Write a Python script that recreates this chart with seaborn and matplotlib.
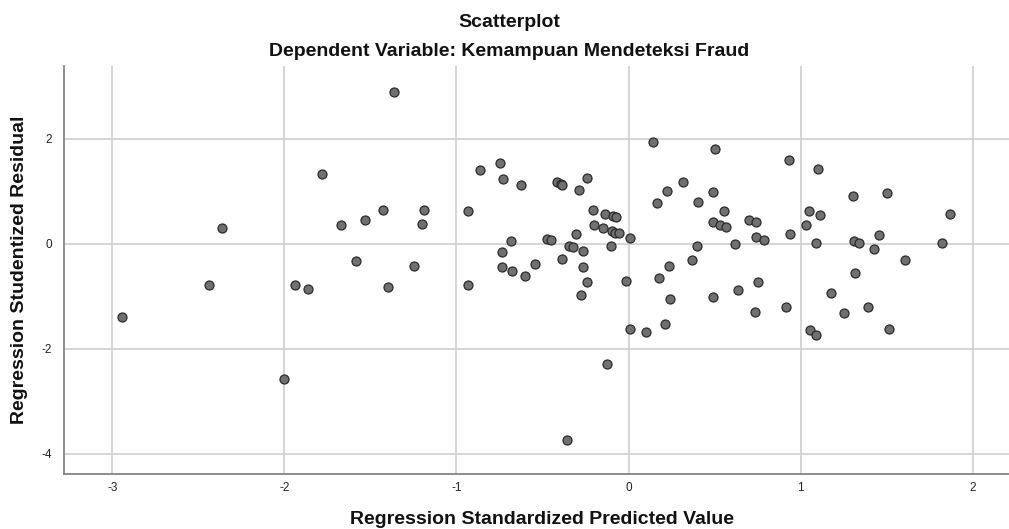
import matplotlib
matplotlib.use("Agg")
import matplotlib.pyplot as plt
import seaborn as sns
import pandas as pd

predicted = [
    -2.943, -2.437, -2.365, -2.003, -1.936, -1.866, -1.779, -1.670, -1.583, -1.529,
    -1.428, -1.399, -1.366, -1.249, -1.201, -1.187, -0.933, -0.933, -0.863, -0.747,
    -0.729, -0.735, -0.735, -0.681, -0.679, -0.624, -0.601, -0.541, -0.473, -0.452,
    -0.415, -0.395, -0.385, -0.384, -0.355, -0.347, -0.322, -0.303, -0.287, -0.274,
    -0.262, -0.262, -0.244, -0.242, -0.209, -0.200, -0.147, -0.136, -0.124, -0.099,
    -0.097, -0.093, -0.076, -0.074, -0.058, -0.015, 0.010, 0.010, 0.101, 0.140,
    0.167, 0.179, 0.210, 0.223, 0.237, 0.241, 0.316, 0.367, 0.400, 0.406,
    0.491, 0.491, 0.493, 0.505, 0.530, 0.553, 0.565, 0.619, 0.635, 0.703,
    0.733, 0.740, 0.742, 0.755, 0.790, 0.916, 0.933, 0.936, 1.034, 1.048,
    1.054, 1.089, 1.089, 1.102, 1.114, 1.176, 1.250, 1.304, 1.308, 1.314,
    1.339, 1.391, 1.426, 1.455, 1.502, 1.515, 1.608, 1.822, 1.867,
]
residual = [
    -1.397, -0.792, 0.296, -2.580, -0.780, -0.868, 1.332, 0.353, -0.334, 0.460,
    0.645, -0.830, 2.897, -0.430, 0.371, 0.645, 0.632, -0.792, 1.408, 1.548,
    1.243, -0.162, -0.449, 0.053, -0.513, 1.122, -0.614, -0.391, 0.097, 0.073,
    1.173, 1.141, 1.125, -0.284, -3.750, -0.036, -0.067, 0.193, 1.027, -0.983,
    -0.137, -0.443, -0.723, 1.256, 0.645, 0.353, 0.296, 0.563, -2.288, -0.036,
    0.239, 0.525, 0.212, 0.506, 0.200, -0.704, 0.117, -1.620, -1.683, 1.949,
    0.785, -0.646, -1.530, 1.000, -0.430, -1.047, 1.179, -0.300, -0.042, 0.792,
    0.410, -1.009, 0.989, 1.815, 0.365, 0.626, 0.327, -0.010, -0.882, 0.460,
    -1.295, 0.130, 0.422, -0.735, 0.067, -1.212, 1.605, 0.193, 0.359, 0.626,
    -1.645, 0.015, -1.734, 1.422, 0.556, -0.939, -1.314, 0.906, 0.047, -0.554,
    0.015, -1.206, -0.100, 0.162, 0.975, -1.626, -0.303, 0.020, 0.563,
]
x_ticks = [-3, -2, -1, 0, 1, 2]
y_ticks = [-4, -2, 0, 2]

title = "Scatterplot"
subtitle = "Dependent Variable: Kemampuan Mendeteksi Fraud"
x_label = "Regression Standardized Predicted Value"
y_label = "Regression Studentized Residual"

df = pd.DataFrame({"pred": predicted, "resid": residual})

sns.set_style("white")
plt.rcParams["font.family"] = ["Liberation Sans", "DejaVu Sans"]

fig = plt.figure(figsize=(10.09, 5.29), dpi=100)
ax = fig.add_axes([0.0637, 0.104, 0.936, 0.771])

for t in x_ticks:
    ax.axvline(t, color="#d2d2d2", lw=1.3, zorder=0)
for t in y_ticks:
    ax.axhline(t, color="#d2d2d2", lw=1.3, zorder=0)

sns.scatterplot(data=df, x="pred", y="resid", ax=ax, s=42,
                color="#707070", edgecolor="#2b2b2b", linewidth=0.9, zorder=3)

ax.set_xlim(-3.28, 2.21)
ax.set_ylim(-4.39, 3.39)
ax.set_xticks(x_ticks)
ax.set_yticks(y_ticks)
ax.set_xticklabels([str(v) for v in x_ticks])
ax.set_yticklabels([str(v) for v in y_ticks])
ax.tick_params(axis="x", length=0, pad=6, labelsize=8.5, colors="#222222")
ax.tick_params(axis="y", length=0, pad=9, labelsize=8.5, colors="#222222")
ax.set_xlabel("")
ax.set_ylabel("")

for side in ["top", "right"]:
    ax.spines[side].set_visible(False)
for side in ["left", "bottom"]:
    ax.spines[side].set_color("#7a7a7a")
    ax.spines[side].set_linewidth(1.2)

fig.text(0.505, 0.957, title, ha="center", va="center", fontsize=14, fontweight="bold", color="#111111")
fig.text(0.505, 0.903, subtitle, ha="center", va="center", fontsize=14, fontweight="bold", color="#111111")
fig.text(0.537, 0.018, x_label, ha="center", va="center", fontsize=14, fontweight="bold", color="#111111")
fig.text(0.019, 0.49, y_label, ha="center", va="center", rotation=90, fontsize=14, fontweight="bold", color="#111111")

fig.savefig("out.png", dpi=100)
